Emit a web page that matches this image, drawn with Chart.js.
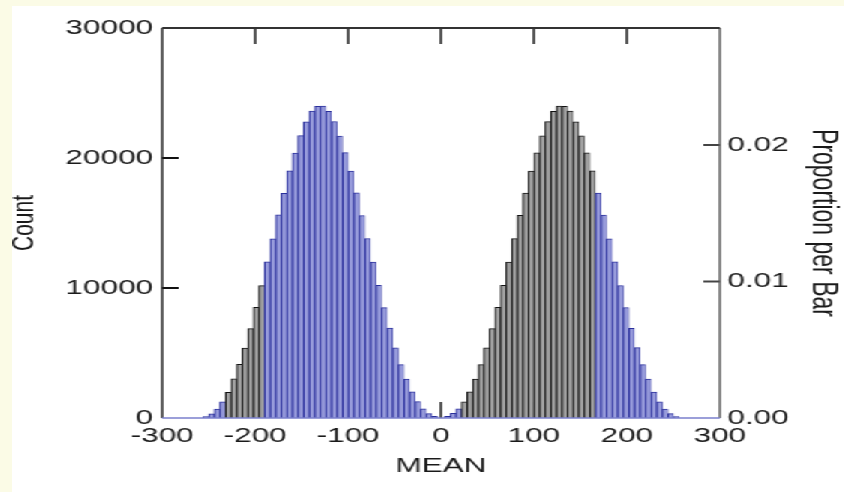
<!DOCTYPE html>
<html>
<head>
<meta charset="utf-8">
<script src="https://cdn.jsdelivr.net/npm/chart.js@4.4.1/dist/chart.umd.min.js"></script>
<style>
  html, body { margin: 0; padding: 0; background: #fbfbe6; overflow: hidden; }
  #wrap {
    position: absolute; left: 12px; top: 6px;
    width: 555px; height: 486px;
    background: #ffffff;
    transform: scaleX(1.5); transform-origin: 0 0;
  }
</style>
</head>
<body>
<div id="wrap"><canvas id="hist"></canvas></div>
<script>
// bin centres (MEAN) and counts, bin width 6
const leftMeans = [-253,-247,-241,-235,-229,-223,-217,-211,-205,-199,-193,-187,-181,-175,-169,-163,-157,-151,-145,-139,-133,-127,-121,-115,-109,-103,-97,-91,-85,-79,-73,-67,-61,-55,-49,-43,-37,-31,-25,-19,-13,-7];
const leftCounts = [110,330,690,1240,1980,3020,4120,5380,6870,8520,10180,12010,13790,15620,17290,19020,20380,21720,22790,23610,23980,23990,23590,22810,21690,20410,18990,17320,15580,13810,11990,10210,8490,6910,5390,4110,2990,2010,1260,710,340,120];

const rightMeans = [7,13,19,25,31,37,43,49,55,61,67,73,79,85,91,97,103,109,115,121,127,133,139,145,151,157,163,169,175,181,187,193,199,205,211,217,223,229,235,241,247,253];
const rightCounts = [120,350,700,1250,2010,2990,4110,5400,6880,8510,10200,12000,13800,15590,17310,18990,20400,21710,22800,23590,23990,23980,23600,22790,21700,20390,19010,17300,15610,13790,12010,10190,8500,6900,5410,4100,3000,1990,1250,690,340,110];

// MEAN ranges drawn as dark bars
const darkRanges = [[-232, -190], [22, 166]];

const xTicks = [-300, -200, -100, 0, 100, 200, 300];
const countTicks = [0, 10000, 20000, 30000];
const totalCount = 1050000;

const blueFill = '#979bdb', blueLine = '#2a2f9c';
const darkFill = '#a2a2a2', darkLine = '#121212';

function isDark(m) {
    return darkRanges.some(r => m > r[0] && m < r[1]);
}

const points = leftMeans.map((m, i) => ({ x: m, y: leftCounts[i] }))
    .concat(rightMeans.map((m, i) => ({ x: m, y: rightCounts[i] })));

const fontTick = { family: 'Liberation Sans', size: 21 };

// frame + inward tick marks
const framePlugin = {
    id: 'frame',
    beforeDatasetsDraw(chart) {
        const { ctx, chartArea: a, scales } = chart;
        ctx.save();
        ctx.strokeStyle = '#111';
        ctx.lineWidth = 1.4;
        scales.x.ticks.forEach(t => {
            if (t.value <= -300 || t.value >= 300) return;
            const px = scales.x.getPixelForValue(t.value);
            ctx.beginPath();
            ctx.moveTo(px, a.bottom); ctx.lineTo(px, a.bottom - 16);
            ctx.moveTo(px, a.top); ctx.lineTo(px, a.top + 16);
            ctx.stroke();
        });
        ctx.lineWidth = 2;
        scales.y.ticks.forEach(t => {
            if (t.value <= 0 || t.value >= 30000) return;
            const py = scales.y.getPixelForValue(t.value);
            ctx.beginPath();
            ctx.moveTo(a.left, py); ctx.lineTo(a.left + 11, py);
            ctx.stroke();
        });
        ctx.strokeStyle = '#444';
        scales.y1.ticks.forEach(t => {
            if (t.value <= 0) return;
            const py = scales.y1.getPixelForValue(t.value);
            ctx.beginPath();
            ctx.moveTo(a.right, py); ctx.lineTo(a.right - 11, py);
            ctx.stroke();
        });
        ctx.restore();
    },
    afterDatasetsDraw(chart) {
        const { ctx, chartArea: a } = chart;
        ctx.save();
        ctx.lineWidth = 1.4;
        ctx.strokeStyle = '#1a1a1a';
        ctx.beginPath();
        ctx.moveTo(a.left, a.bottom); ctx.lineTo(a.left, a.top);
        ctx.stroke();
        ctx.strokeStyle = '#555';
        ctx.beginPath();
        ctx.moveTo(a.right, a.top); ctx.lineTo(a.right, a.bottom);
        ctx.stroke();
        ctx.lineWidth = 2.2;
        ctx.strokeStyle = '#333';
        ctx.beginPath();
        ctx.moveTo(a.left, a.top); ctx.lineTo(a.right, a.top);
        ctx.stroke();
        ctx.lineWidth = 1.5;
        ctx.strokeStyle = '#7a7fcc';
        ctx.beginPath();
        ctx.moveTo(a.left, a.bottom); ctx.lineTo(a.right, a.bottom);
        ctx.stroke();
        ctx.restore();
    }
};

new Chart(document.getElementById('hist'), {
    type: 'bar',
    data: {
        datasets: [{
            label: 'Count',
            data: points,
            backgroundColor: c => isDark(c.raw.x) ? darkFill : blueFill,
            borderColor: c => isDark(c.raw.x) ? darkLine : blueLine,
            borderWidth: { top: 1, left: 1.1, right: 0.6, bottom: 0 },
            barPercentage: 1,
            categoryPercentage: 1
        }]
    },
    options: {
        responsive: true,
        maintainAspectRatio: false,
        animation: false,
        layout: { padding: { top: 22, left: 0, right: 0, bottom: 0 } },
        plugins: {
            legend: { display: false },
            tooltip: { enabled: false }
        },
        scales: {
            x: {
                type: 'linear',
                offset: false,
                min: xTicks[0],
                max: xTicks[xTicks.length - 1],
                afterBuildTicks: s => { s.ticks = xTicks.map(v => ({ value: v })); },
                afterFit: s => { s.height = 74; },
                grid: { display: false, drawTicks: false },
                border: { display: false },
                ticks: {
                    font: fontTick, color: '#1a1a1a', padding: 6,
                    maxRotation: 0, autoSkip: false,
                    callback: v => String(v)
                },
                title: {
                    display: true, text: 'MEAN', color: '#1a1a1a',
                    font: { family: 'Liberation Sans', size: 21 },
                    padding: { top: 0, bottom: 13 }
                }
            },
            y: {
                position: 'left',
                min: 0,
                max: 30000,
                afterBuildTicks: s => { s.ticks = countTicks.map(v => ({ value: v })); },
                afterFit: s => { s.width = 100; },
                grid: { display: false, drawTicks: false },
                border: { display: false },
                ticks: {
                    font: fontTick, color: '#1a1a1a', padding: 6,
                    callback: v => String(v)
                },
                title: {
                    display: true, text: 'Count', color: '#1a1a1a',
                    font: { family: 'Liberation Sans', size: 21, lineHeight: 0.75 },
                    padding: 0
                }
            },
            y1: {
                position: 'right',
                min: 0,
                max: 30000 / totalCount,
                afterFit: s => { s.width = 83; },
                grid: { display: false, drawTicks: false },
                border: { display: false },
                ticks: {
                    stepSize: 0.01,
                    includeBounds: false,
                    font: fontTick, color: '#1a1a1a', padding: 5,
                    callback: v => v.toFixed(2)
                },
                title: {
                    display: true, text: 'Proportion per Bar', color: '#1a1a1a',
                    font: { family: 'Liberation Sans', size: 23 },
                    padding: { top: 1, bottom: 0 }
                }
            }
        }
    },
    plugins: [framePlugin]
});
</script>
</body>
</html>
